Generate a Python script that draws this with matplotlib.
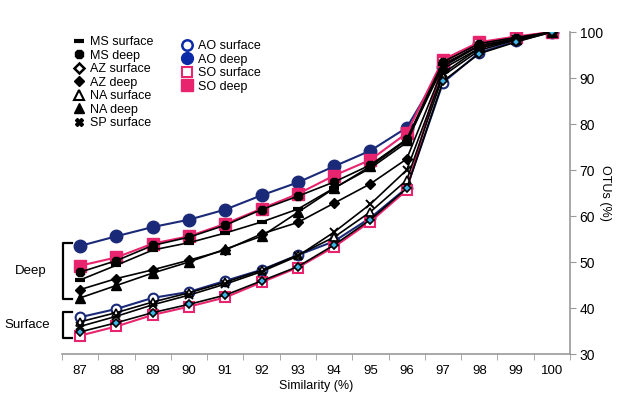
import numpy as np
import matplotlib.pyplot as plt
from matplotlib.lines import Line2D

plt.rcParams['font.family'] = ['Liberation Sans', 'DejaVu Sans']

similarity = [87, 88, 89, 90, 91, 92, 93, 94, 95, 96, 97, 98, 99, 100]

ao_deep    = [53.5, 55.6, 57.6, 59.2, 61.4, 64.5, 67.3, 70.8, 74.2, 79.2, 92.5, 97.3, 98.8, 100]
so_deep    = [49.2, 51.0, 54.0, 55.6, 58.3, 61.6, 64.8, 68.8, 72.2, 78.0, 94.0, 97.8, 99.0, 100]
ms_deep    = [47.8, 50.3, 53.6, 55.4, 58.0, 61.4, 64.3, 67.4, 71.1, 76.7, 93.5, 97.5, 98.8, 100]
ms_surface = [46.1, 49.3, 52.6, 54.2, 56.3, 58.7, 61.5, 66.1, 70.4, 76.0, 93.0, 97.0, 98.5, 100]
az_deep    = [44.0, 46.4, 48.3, 50.4, 52.6, 56.1, 58.6, 62.8, 67.0, 72.4, 92.0, 96.5, 98.3, 100]
na_deep    = [42.2, 44.9, 47.6, 50.0, 52.8, 55.6, 60.8, 66.0, 70.8, 76.5, 92.5, 97.0, 98.5, 100]

ao_surface = [38.0, 39.8, 42.2, 43.5, 45.9, 48.3, 51.5, 54.5, 59.6, 66.1, 89.0, 95.5, 98.0, 100]
na_surface = [37.0, 39.0, 41.3, 43.3, 45.6, 48.2, 51.5, 55.4, 60.9, 67.8, 90.5, 96.0, 98.3, 100]
sp_surface = [36.0, 38.2, 40.7, 42.8, 45.2, 47.9, 51.3, 56.5, 62.6, 70.0, 91.0, 96.5, 98.5, 100]
az_surface = [34.8, 36.8, 39.0, 40.8, 42.8, 45.9, 49.0, 53.7, 59.2, 66.0, 89.3, 95.3, 97.8, 100]
so_surface = [34.0, 36.0, 38.5, 40.3, 42.3, 45.6, 48.8, 53.3, 58.8, 65.6, 93.5, 97.5, 98.8, 100]

navy = '#1b2a78'
pink = '#e8246e'
x = np.arange(len(similarity))

fig = plt.figure(figsize=(6.21, 3.95), dpi=100)
ax = fig.add_axes([62/621, 1-354/395, (570-62)/621, (354-32)/395])

lw = 1.2
ax.plot(x, ao_deep, color=navy, lw=1.5, marker='o', ms=9, mfc=navy, mec=navy)
ax.plot(x, so_deep, color=pink, lw=1.5, marker='s', ms=8, mfc=pink, mec=pink)
ax.plot(x, ao_surface, color=navy, lw=1.5, marker='o', ms=7, mfc='white', mec=navy, mew=1.5)
ax.plot(x, so_surface, color=pink, lw=1.5, marker='s', ms=7, mfc='white', mec=pink, mew=1.5)
ax.plot(x, ms_deep, color='black', lw=lw, marker='8', ms=6.5, mfc='black', mec='black')
ax.plot(x, ms_surface, color='black', lw=lw, marker='_', ms=7, mew=3, mec='black')
ax.plot(x, az_deep, color='black', lw=lw, marker='D', ms=5.5, mfc='black', mec='black')
ax.plot(x, na_deep, color='black', lw=lw, marker='^', ms=6.5, mfc='black', mec='black')
ax.plot(x, na_surface, color='black', lw=lw, marker='^', ms=6, mfc='white', mec='black', mew=1.2)
ax.plot(x, sp_surface, color='black', lw=lw, marker='x', ms=6, mew=1.4, mec='black')
ax.plot(x, az_surface, color='black', lw=lw, marker='D', ms=4, mfc='#3fb3e6', mec='black', mew=1.2)

ax.set_xlim(-0.5, len(similarity) - 0.5)
ax.set_ylim(30, 100)
ax.set_xticks(x)
ax.set_xticklabels([str(s) for s in similarity], fontsize=9.5)
ax.set_xticks(np.arange(-0.5, len(similarity), 1), minor=True)
ax.tick_params(axis='x', which='major', length=0, pad=8)
ax.tick_params(axis='x', which='minor', length=4, color='#999999')
ax.yaxis.tick_right()
ax.yaxis.set_label_position('right')
ax.set_yticks(np.arange(30, 101, 10))
ax.tick_params(axis='y', length=4, color='#999999', labelsize=10, pad=3)
for s in ['top', 'left']:
    ax.spines[s].set_visible(False)
for s in ['right', 'bottom']:
    ax.spines[s].set_color('#999999')
    ax.spines[s].set_linewidth(1.2)
ax.set_xlabel('Similarity (%)', fontsize=9, labelpad=2)
ax.set_ylabel('OTUs (%)', fontsize=9, rotation=270, labelpad=6)

# brackets for Deep / Surface groups
def bracket(y0, y1, label, tx):
    xs = [72/621, 63/621, 63/621, 72/621]
    ys = [1-y0/395, 1-y0/395, 1-y1/395, 1-y1/395]
    fig.add_artist(Line2D(xs, ys, color='black', lw=1.6, transform=fig.transFigure))
    fig.text(tx/621, 1-(y0+y1)/2/395, label, fontsize=9.5, ha='center', va='center')

bracket(243, 299, 'Deep', 31)
bracket(312, 338, 'Surface', 27)

left_handles = [
    Line2D([], [], ls='none', marker='_', ms=7, mew=3, color='black'),
    Line2D([], [], ls='none', marker='8', ms=6.5, color='black'),
    Line2D([], [], ls='none', marker='D', ms=5, mfc='white', mec='black', mew=1.8),
    Line2D([], [], ls='none', marker='D', ms=5, color='black'),
    Line2D([], [], ls='none', marker='^', ms=6.5, mfc='white', mec='black', mew=1.5),
    Line2D([], [], ls='none', marker='^', ms=7, color='black'),
    Line2D([], [], ls='none', marker='X', ms=6, color='black'),
]
left_labels = ['MS surface', 'MS deep', 'AZ surface', 'AZ deep', 'NA surface', 'NA deep', 'SP surface']
right_handles = [
    Line2D([], [], ls='none', marker='o', ms=7.5, mfc='white', mec='#0a2aa8', mew=1.8),
    Line2D([], [], ls='none', marker='o', ms=8.5, color='#0a2aa8'),
    Line2D([], [], ls='none', marker='s', ms=7.5, mfc='white', mec=pink, mew=1.5),
    Line2D([], [], ls='none', marker='s', ms=8, color=pink),
]
right_labels = ['AO surface', 'AO deep', 'SO surface', 'SO deep']

fig.legend(left_handles, left_labels, loc='upper left', bbox_to_anchor=(66/621, 1-30/395),
           frameon=False, fontsize=9, handlelength=1, handletextpad=0.4,
           labelspacing=0.12, borderpad=0)
fig.legend(right_handles, right_labels, loc='upper left', bbox_to_anchor=(174/621, 1-34/395),
           frameon=False, fontsize=9, handlelength=1, handletextpad=0.4,
           labelspacing=0.12, borderpad=0)

plt.savefig('out.png', dpi=100)
